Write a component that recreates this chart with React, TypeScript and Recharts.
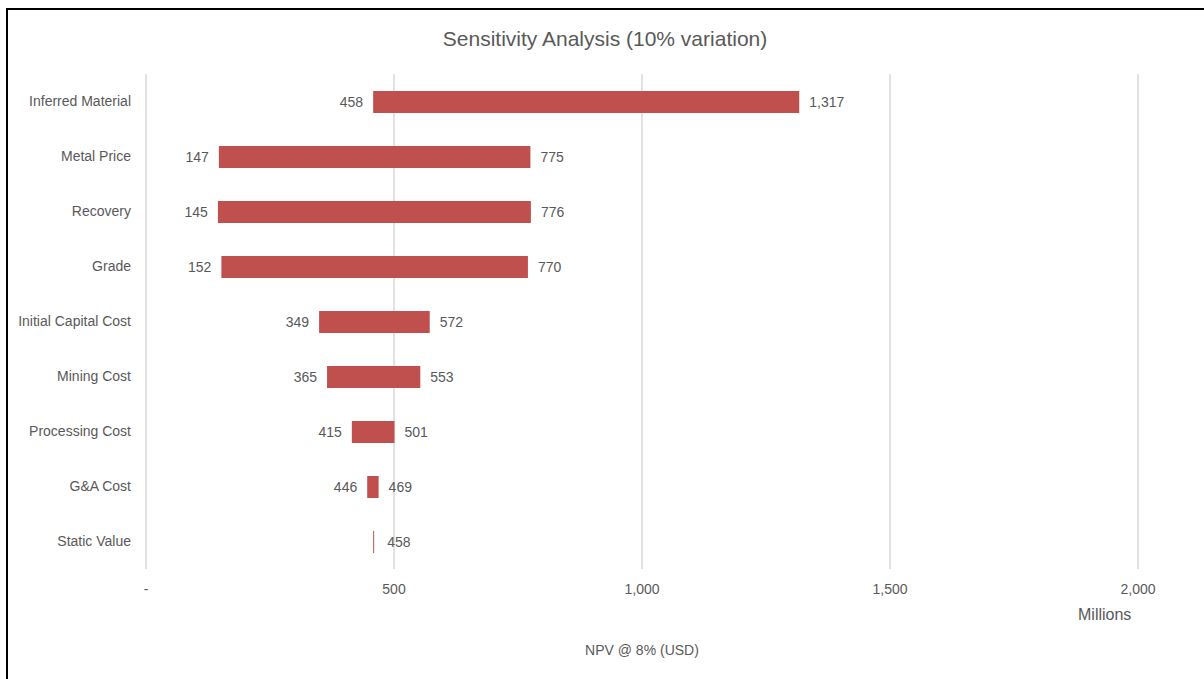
import { BarChart, Bar, XAxis, YAxis, CartesianGrid, LabelList } from 'recharts'

// Tornado chart: NPV range for each +/-10% input change
const categories = [
  'Inferred Material', 'Metal Price', 'Recovery', 'Grade', 'Initial Capital Cost',
  'Mining Cost', 'Processing Cost', 'G&A Cost', 'Static Value',
]
const lowValues = [458, 147, 145, 152, 349, 365, 415, 446, 458]
const highValues = [1317, 775, 776, 770, 572, 553, 501, 469, 458]
const xTicks = [0, 500, 1000, 1500, 2000]

const data = categories.map((name, i) => ({
  name,
  low: lowValues[i],
  high: highValues[i],
  span: highValues[i] - lowValues[i],
}))

const BAR = '#c0504d'
const TEXT = '#595959'
const FONT = '"Liberation Sans", Arial, sans-serif'

const fmt = (v: number) => (v === 0 ? '-' : v.toLocaleString('en-US'))

const LowLabel = (p: any) => {
  const d = data[p.index]
  if (!d || d.span === 0) return null
  return (
    <text x={p.x + p.width - 10} y={p.y + p.height / 2} textAnchor="end" dominantBaseline="central"
      fontSize={14} fill={TEXT} fontFamily={FONT}>{fmt(d.low)}</text>
  )
}

const HighLabel = (p: any) => {
  const d = data[p.index]
  if (!d) return null
  const gap = d.span === 0 ? 14 : 10
  return (
    <text x={p.x + p.width + gap} y={p.y + p.height / 2} textAnchor="start" dominantBaseline="central"
      fontSize={14} fill={TEXT} fontFamily={FONT}>{fmt(d.high)}</text>
  )
}

// keep the zero-width "Static Value" bar visible as a thin line
const SpanShape = (p: any) => (
  <rect x={p.x} y={p.y} width={Math.max(p.width, 1)} height={p.height} fill={BAR} />
)

export default function App() {
  return (
    <div style={{ position: 'absolute', left: 0, top: 0, width: 1204, height: 679, background: '#fff', overflow: 'hidden', fontFamily: FONT }}>
      <div style={{ position: 'absolute', left: 6, top: 8, width: 1300, height: 800, borderLeft: '2px solid #000', borderTop: '2px solid #000' }} />
      <div style={{ position: 'absolute', left: 0, width: 1210, top: 27, textAlign: 'center', fontSize: 21, color: TEXT }}>
        Sensitivity Analysis (10% variation)
      </div>
      <BarChart width={1204} height={679} data={data} layout="vertical" barSize={22}
        margin={{ top: 74, right: 66, left: 0, bottom: 70 }}>
        <CartesianGrid horizontal={false} stroke="#d9d9d9" strokeWidth={1.5} />
        <XAxis type="number" domain={[0, 2000]} ticks={xTicks} tickFormatter={fmt}
          axisLine={false} tickLine={false} tickSize={0} tickMargin={15} height={40}
          tick={{ fontSize: 14, fill: TEXT, fontFamily: FONT }} />
        <YAxis type="category" dataKey="name" width={146} axisLine={false} tickLine={false}
          tickSize={0} tickMargin={15} tick={{ fontSize: 14, fill: TEXT, fontFamily: FONT }} />
        <Bar dataKey="low" stackId="t" fill="transparent" isAnimationActive={false}>
          <LabelList dataKey="low" content={LowLabel} />
        </Bar>
        <Bar dataKey="span" stackId="t" fill={BAR} shape={SpanShape} isAnimationActive={false}>
          <LabelList dataKey="high" content={HighLabel} />
        </Bar>
      </BarChart>
      <div style={{ position: 'absolute', left: 1078, top: 606, fontSize: 16, color: TEXT }}>Millions</div>
      <div style={{ position: 'absolute', left: 0, width: 1284, top: 642, textAlign: 'center', fontSize: 14, color: TEXT }}>
        NPV @ 8% (USD)
      </div>
    </div>
  )
}
